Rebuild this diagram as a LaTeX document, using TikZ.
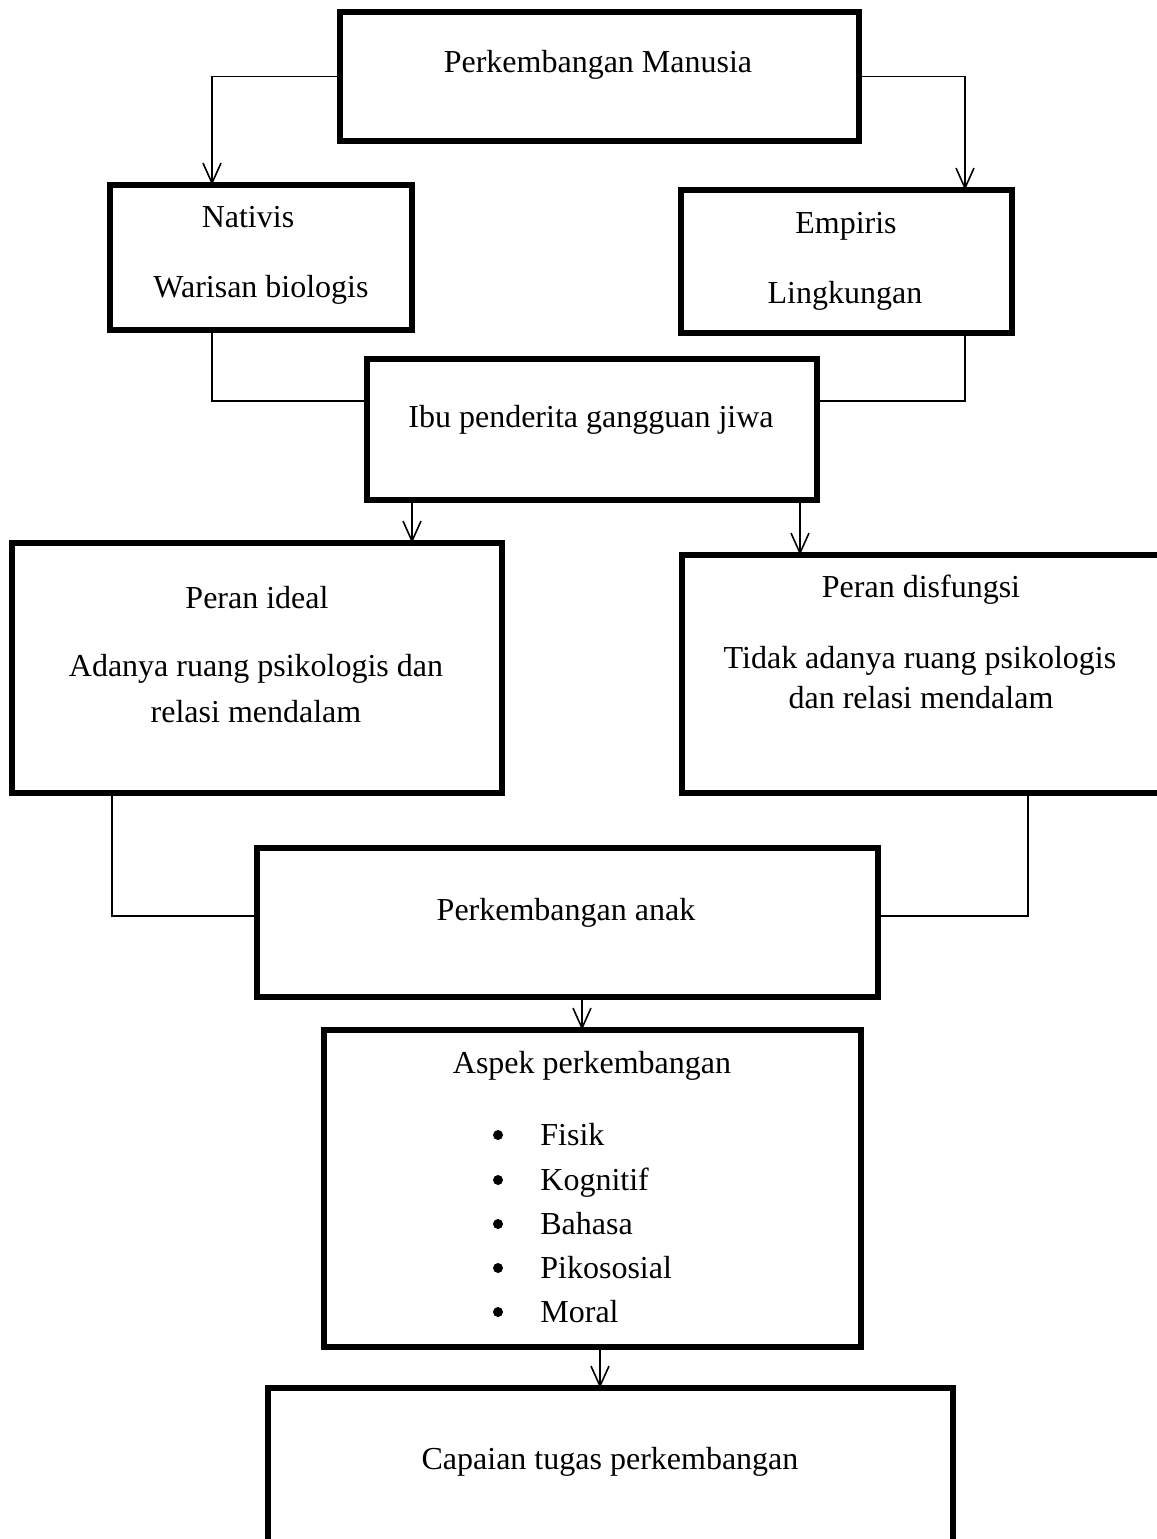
\documentclass[tikz,border=0pt]{standalone}
\usepackage{fontspec}
\setmainfont{Liberation Serif}
\usetikzlibrary{arrows.meta}
\begin{document}
\begin{tikzpicture}[x=0.5pt,y=-0.5pt,
  box/.style={draw, line width=2.8pt, rectangle, inner sep=0pt, outer sep=0pt},
  txt/.style={font=\fontsize{16}{19}\selectfont, inner sep=0pt, text height=0.7em, text depth=0.2em},
  dot/.style={circle, fill, inner sep=0pt, minimum size=5pt},
  conn/.style={line width=0.8pt},
  arr/.style={line width=0.8pt, -{Straight Barb[length=10pt,width=9pt]}}]
\useasboundingbox (0,0) rectangle (1157,1539);
\clip (0,0) rectangle (1157,1539);
\fill[white] (0,0) rectangle (1157,1539);
% boxes
\node[box, minimum width=259.5pt, minimum height=64.5pt] (man) at (599.5,76.5) {};
\node[box, minimum width=151pt, minimum height=72.5pt] (nat) at (261,257.5) {};
\node[box, minimum width=165.5pt, minimum height=71.5pt] (emp) at (846.5,261.5) {};
\node[box, minimum width=225pt, minimum height=70.5pt] (ibu) at (592,429.5) {};
\node[box, minimum width=245pt, minimum height=125pt] (ideal) at (257,668) {};
\node[box, minimum width=246.5pt, minimum height=119pt] (dis) at (928.5,674) {};
\node[box, minimum width=310.5pt, minimum height=74.5pt] (anak) at (567.5,922.5) {};
\node[box, minimum width=268.5pt, minimum height=158.5pt] (asp) at (592.5,1188.5) {};
\node[box, minimum width=342.5pt, minimum height=86pt] (cap) at (610.5,1474) {};
% texts
\node[txt] (t1) at (598,67) {Perkembangan Manusia};
\node[txt] (t2) at (248,222) {Nativis};
\node[txt] (t3) at (261,292) {Warisan biologis};
\node[txt] (t4) at (846,228) {Empiris};
\node[txt] (t5) at (845,298) {Lingkungan};
\node[txt] (t6) at (591,422) {Ibu penderita gangguan jiwa};
\node[txt] (t7) at (257,603) {Peran ideal};
\node[txt] (t8) at (256,671) {Adanya ruang psikologis dan};
\node[txt] (t9) at (256,717) {relasi mendalam};
\node[txt] (t10) at (921,592) {Peran disfungsi};
\node[txt] (t11) at (920,663) {Tidak adanya ruang psikologis};
\node[txt] (t12) at (921,703) {dan relasi mendalam};
\node[txt] (t13) at (566,915) {Perkembangan anak};
\node[txt] (t14) at (592,1068) {Aspek perkembangan};
\foreach \y/\w [count=\i] in {1135/Fisik,1180/Kognitif,1224/Bahasa,1268/Pikososial,1312/Moral}{
  \node[dot] (b\i) at (498,\y) {};
  \node[txt, anchor=west] (l\i) at (540,\y+5) {\w};
}
\node[txt] (t15) at (610,1464) {Capaian tugas perkembangan};
% connectors
\draw[arr] (man.west) -| ([xshift=-24.5pt]nat.north);
\draw[arr] (man.east) -| ([xshift=59.25pt]emp.north);
\draw[conn] ([xshift=-24.5pt]nat.south) |- ([yshift=14.25pt]ibu.west);
\draw[conn] ([xshift=59.25pt]emp.south) |- ([yshift=14.25pt]ibu.east);
\draw[arr] ([xshift=-90pt]ibu.south) -- ([xshift=-90pt]ibu.south |- ideal.north);
\draw[arr] ([xshift=104pt]ibu.south) -- ([xshift=104pt]ibu.south |- dis.north);
\draw[conn] ([xshift=-72.5pt]ideal.south) |- ([yshift=3.25pt]anak.west);
\draw[conn] ([xshift=49.75pt]dis.south) |- ([yshift=3.25pt]anak.east);
\draw[arr] ([xshift=7.25pt]anak.south) -- ([xshift=7.25pt]anak.south |- asp.north);
\draw[arr] ([xshift=3.75pt]asp.south) -- ([xshift=3.75pt]asp.south |- cap.north);
\end{tikzpicture}
\end{document}
